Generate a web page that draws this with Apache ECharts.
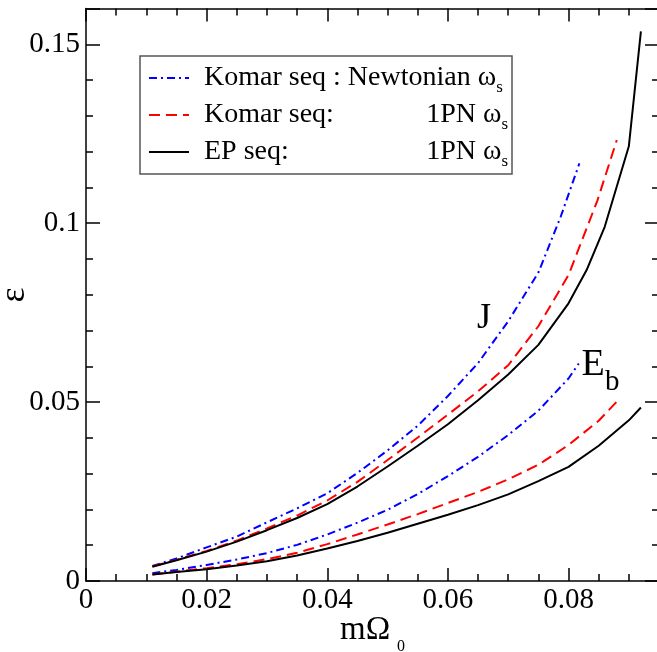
<!DOCTYPE html>
<html>
<head>
<meta charset="utf-8">
<script src="https://cdn.jsdelivr.net/npm/echarts@6/dist/echarts.min.js"></script>
<style>html,body{margin:0;padding:0;background:#fff;}#c{width:657px;height:652px;}</style>
</head>
<body>
<div id="c"></div>
<script>
// ---- data ----
const legendNames = ['Komar seq : Newtonian \u03c9s', 'Komar seq: 1PN \u03c9s', 'EP seq: 1PN \u03c9s'];
const xTickLabels = ['0', '0.02', '0.04', '0.06', '0.08'];
const yTickLabels = ['0', '0.05', '0.1', '0.15'];

// J curves
const xJ_newt = [0.011,0.015,0.02,0.025,0.03,0.035,0.04,0.045,0.05,0.055,0.06,0.065,0.07,0.075,0.0787,0.0818];
const yJ_newt = [0.0042,0.0063,0.0094,0.0124,0.0164,0.0203,0.0245,0.0302,0.0365,0.0434,0.0517,0.0609,0.0726,0.0862,0.1018,0.1167];
const xJ_komar = [0.011,0.015,0.02,0.025,0.03,0.035,0.04,0.045,0.05,0.055,0.06,0.065,0.07,0.075,0.08,0.0848,0.088];
const yJ_komar = [0.0041,0.0059,0.0084,0.0113,0.0147,0.0183,0.0225,0.0277,0.0338,0.0401,0.0465,0.0530,0.0603,0.0712,0.0855,0.1064,0.1232];
const xJ_ep = [0.011,0.015,0.02,0.025,0.03,0.035,0.04,0.045,0.05,0.055,0.06,0.065,0.07,0.075,0.08,0.083,0.086,0.09,0.092];
const yJ_ep = [0.0040,0.0058,0.0082,0.0110,0.0142,0.0176,0.0215,0.0264,0.0320,0.0378,0.0438,0.0505,0.0577,0.0660,0.0776,0.0869,0.0990,0.1215,0.1536];

// E_b curves
const xE_newt = [0.011,0.015,0.02,0.025,0.03,0.035,0.04,0.045,0.05,0.055,0.06,0.065,0.07,0.075,0.08,0.0817];
const yE_newt = [0.0022,0.0031,0.0045,0.0060,0.0078,0.0101,0.0130,0.0163,0.0199,0.0243,0.0293,0.0347,0.0408,0.0476,0.0566,0.0608];
const xE_komar = [0.011,0.015,0.02,0.025,0.03,0.035,0.04,0.045,0.05,0.055,0.06,0.065,0.07,0.075,0.08,0.085,0.088];
const yE_komar = [0.0018,0.0026,0.0036,0.0047,0.0061,0.0079,0.0103,0.0130,0.0158,0.0187,0.0218,0.0249,0.0284,0.0325,0.0380,0.0448,0.0501];
const xE_ep = [0.011,0.015,0.02,0.025,0.03,0.035,0.04,0.045,0.05,0.055,0.06,0.065,0.07,0.075,0.08,0.085,0.09,0.092];
const yE_ep = [0.0018,0.0025,0.0033,0.0043,0.0055,0.0071,0.0091,0.0112,0.0135,0.0160,0.0185,0.0212,0.0242,0.0279,0.0319,0.0378,0.0449,0.0485];

// ---- chart ----
const FONT = 'Liberation Serif';
function pairs(xs, ys) { return xs.map((x, i) => [x, ys[i]]); }
const styles = [
  { color: '#0000ff', type: [8, 4, 2, 4] },
  { color: '#ff0000', type: [11, 6] },
  { color: '#000000', type: 'solid' }
];
function mk(name, idx, xs, ys) {
  return {
    type: 'line', name: name, data: pairs(xs, ys), symbol: 'none', showSymbol: false,
    smooth: false, animation: false, clip: true,
    lineStyle: { width: 2, color: styles[idx].color, type: styles[idx].type },
    itemStyle: { color: styles[idx].color }
  };
}
const tickLabelSet = new Set(xTickLabels.concat(yTickLabels));
function fmt(v) { const s = String(+v.toFixed(4)); return tickLabelSet.has(s) ? s : ''; }

const axisLineStyle = { color: '#000', width: 1.5 };
function xAx(pos) {
  return {
    type: 'value', position: pos, min: 0, max: 0.095, interval: 0.02,
    axisLine: { show: true, onZero: false, lineStyle: axisLineStyle },
    axisTick: { show: true, inside: true, length: 13, lineStyle: axisLineStyle },
    minorTick: { show: true, splitNumber: 4, length: 7, lineStyle: axisLineStyle },
    splitLine: { show: false }, minorSplitLine: { show: false },
    axisLabel: pos === 'bottom' ? { show: true, showMaxLabel: false, margin: 5, color: '#000', fontFamily: FONT, fontSize: 29, formatter: fmt } : { show: false }
  };
}
function yAx(pos) {
  return {
    type: 'value', position: pos, min: 0, max: 0.16, interval: 0.05,
    axisLine: { show: true, onZero: false, lineStyle: axisLineStyle },
    axisTick: { show: true, inside: true, length: 14, lineStyle: axisLineStyle },
    minorTick: { show: true, splitNumber: 5, length: 7, lineStyle: axisLineStyle },
    splitLine: { show: false }, minorSplitLine: { show: false },
    axisLabel: pos === 'left' ? { show: true, showMaxLabel: false, margin: 6, color: '#000', fontFamily: FONT, fontSize: 29, formatter: fmt } : { show: false }
  };
}

const legendRich = {
  l: { fontFamily: FONT, fontSize: 28, color: '#000', lineHeight: 28, verticalAlign: 'top', padding: [0, 0, 0, 10] },
  r: { fontFamily: FONT, fontSize: 28, color: '#000', lineHeight: 28, verticalAlign: 'top', align: 'right' },
  s: { fontFamily: FONT, fontSize: 17, color: '#000', lineHeight: 17, padding: [19, 0, 0, 0], align: 'right' },
  t: { fontFamily: FONT, fontSize: 17, color: '#000', lineHeight: 17, padding: [19, 0, 0, 0] }
};
const legendParts = {};
legendParts[legendNames[0]] = '{l|Komar seq : Newtonian \u03c9}{t|s}';
legendParts[legendNames[1]] = '{l|Komar seq:}{r|1PN \u03c9}{s|s}';
legendParts[legendNames[2]] = '{l|EP seq:}{r|1PN \u03c9}{s|s}';

const option = {
  animation: false,
  backgroundColor: '#fff',
  grid: { left: 86, top: 8.5, width: 573, height: 572.5, containLabel: false, outerBoundsMode: 'none' },
  xAxis: [xAx('bottom'), xAx('top')],
  yAxis: [yAx('left'), yAx('right')],
  legend: {
    show: true, orient: 'vertical', left: 140, top: 56,
    data: legendNames,
    itemWidth: 40, itemHeight: 10, itemGap: 1,
    padding: [4, 4, 4, 8],
    borderColor: '#555', borderWidth: 1.5, backgroundColor: '#fff',
    itemStyle: { opacity: 0 },
    selectedMode: false,
    formatter: name => legendParts[name],
    textStyle: { width: 314, rich: legendRich, fontFamily: FONT, fontSize: 28, color: '#000' }
  },
  series: [
    mk(legendNames[0], 0, xJ_newt, yJ_newt),
    mk(legendNames[1], 1, xJ_komar, yJ_komar),
    mk(legendNames[2], 2, xJ_ep, yJ_ep),
    mk(legendNames[0], 0, xE_newt, yE_newt),
    mk(legendNames[1], 1, xE_komar, yE_komar),
    mk(legendNames[2], 2, xE_ep, yE_ep)
  ],
  graphic: [
    // axis titles
    { type: 'text', x: 15, y: 295, rotation: Math.PI / 2, style: { text: '\u03b5', fontFamily: FONT, fontSize: 36, fill: '#000', align: 'center', verticalAlign: 'middle' } },
    { type: 'text', x: 340, y: 630, style: { text: 'm\u03a9', fontFamily: FONT, fontSize: 33, fill: '#000', align: 'left', verticalAlign: 'middle' } },
    { type: 'text', x: 397, y: 647, style: { text: '0', fontFamily: FONT, fontSize: 16, fill: '#000', align: 'left', verticalAlign: 'middle' } },
    // curve labels
    { type: 'text', x: 484, y: 319, style: { text: 'J', fontFamily: FONT, fontSize: 36, fill: '#000', align: 'center', verticalAlign: 'middle' } },
    { type: 'text', x: 593, y: 365, style: { text: 'E', fontFamily: FONT, fontSize: 38, fill: '#000', align: 'center', verticalAlign: 'middle' } },
    { type: 'text', x: 605, y: 382, style: { text: 'b', fontFamily: FONT, fontSize: 29, fill: '#000', align: 'left', verticalAlign: 'middle' } }
  ]
};
const chart = echarts.init(document.getElementById('c'), null, { renderer: 'canvas' });
chart.setOption(option);
</script>
</body>
</html>
